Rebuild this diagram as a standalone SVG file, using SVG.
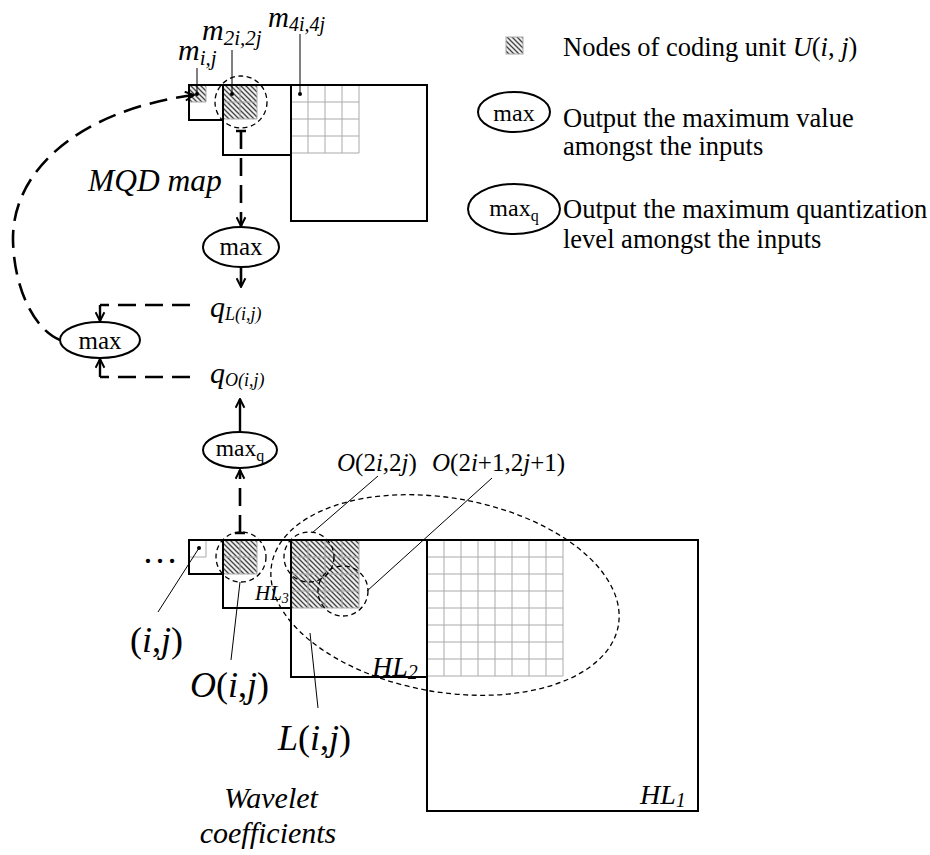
<svg xmlns="http://www.w3.org/2000/svg" width="930" height="855" viewBox="0 0 930 855">
<defs>
<pattern id="hatch" patternUnits="userSpaceOnUse" width="5" height="5">
<rect width="5" height="5" fill="#eeeeee"/>
<path d="M-1,-1 L6,6 M-1,4 L1,6 M4,-1 L6,1" stroke="#444" stroke-width="1.3"/>
</pattern>
<marker id="chev" viewBox="0 0 10 10" refX="9" refY="5" markerWidth="11" markerHeight="11" markerUnits="userSpaceOnUse" orient="auto">
<path d="M1,1 L9,5 L1,9" fill="none" stroke="#000" stroke-width="1.8"/>
</marker>
<style>
text{font-family:"Liberation Serif","Times New Roman",serif;fill:#000}
.it{font-style:italic}
.box{fill:none;stroke:#000;stroke-width:2}
.grid{fill:none;stroke:#aaa;stroke-width:1}
.hat{fill:url(#hatch)}
.dcirc{fill:none;stroke:#000;stroke-width:1.3;stroke-dasharray:5 3.5}
.thick{fill:none;stroke:#000;stroke-width:2.6;stroke-dasharray:18 9}
.solid{fill:none;stroke:#000;stroke-width:2.4}
.lead{fill:none;stroke:#000;stroke-width:1}
.ell{fill:#fff;stroke:#000;stroke-width:2}
.lg{font-size:26.5px}
</style>
</defs>

<!-- MQD map -->
<g id="mqd-map">
<rect class="hat" x="189" y="85" width="17" height="17"/>
<path class="grid" d="M206,85V102 M189,102H206"/>
<rect class="hat" x="223" y="85" width="34" height="34"/>
<path class="grid" d="M240,85V119 M257,85V119 M223,102H257 M223,119H257"/>
<path class="grid" d="M308,85V153 M325,85V153 M342,85V153 M359,85V153 M291,102H359 M291,119H359 M291,136H359 M291,153H359"/>
<rect class="box" x="189" y="85" width="34" height="35"/>
<rect class="box" x="223" y="85" width="68" height="70"/>
<rect class="box" x="291" y="85" width="136" height="136"/>
<circle class="dcirc" cx="241" cy="102" r="26"/>
<circle cx="197" cy="94" r="2"/>
<circle cx="232" cy="94" r="2"/>
<circle cx="300" cy="94" r="2"/>
<path class="lead" d="M197,68V94 M232,50V94 M300,34V94"/>
<text class="it" x="178" y="60" font-size="30">m<tspan font-size="21" dy="5">i,j</tspan></text>
<text class="it" x="202" y="40" font-size="30">m<tspan font-size="21" dy="5">2i,2j</tspan></text>
<text class="it" x="268" y="27" font-size="29">m<tspan font-size="20" dy="4">4i,4j</tspan></text>
<text class="it" x="88" y="191" font-size="31.5">MQD map</text>
</g>

<!-- Legend -->
<g id="legend">
<rect class="hat" x="506" y="37" width="17" height="17" stroke="#aaa" stroke-width="1"/>
<text class="lg" x="563" y="56">Nodes of coding unit <tspan class="it">U</tspan>(<tspan class="it">i</tspan>, <tspan class="it">j</tspan>)</text>
<ellipse class="ell" cx="514" cy="112" rx="36" ry="20"/>
<text x="514" y="121" font-size="24" text-anchor="middle">max</text>
<text class="lg" x="563" y="127">Output the maximum value</text>
<text class="lg" x="563" y="155">amongst the inputs</text>
<ellipse class="ell" cx="514" cy="209" rx="46" ry="25"/>
<text x="514" y="216" font-size="24" text-anchor="middle">max<tspan font-size="16" dy="5">q</tspan></text>
<text class="lg" x="563" y="218">Output the maximum quantization</text>
<text class="lg" x="563" y="248">level amongst the inputs</text>
</g>

<!-- Operators -->
<g id="max-upper">
<ellipse class="ell" cx="241" cy="247" rx="38" ry="20"/>
<text x="241" y="255" font-size="25" text-anchor="middle">max</text>
</g>
<g id="max-lower">
<ellipse class="ell" cx="100" cy="340" rx="40" ry="18"/>
<text x="100" y="349" font-size="25" text-anchor="middle">max</text>
</g>
<g id="maxq">
<ellipse class="ell" cx="240" cy="450" rx="37" ry="18"/>
<text x="240" y="456" font-size="23.5" text-anchor="middle">max<tspan font-size="16" dy="5">q</tspan></text>
</g>
<g id="qL">
<text class="it" x="210" y="317" font-size="30">q<tspan font-size="18" dy="3">L(i,j)</tspan></text>
</g>
<g id="qO">
<text class="it" x="210" y="383" font-size="30">q<tspan font-size="18" dy="3">O(i,j)</tspan></text>
</g>

<!-- Wavelet coefficients -->
<g id="wavelet">
<rect class="hat" x="223" y="540" width="34" height="34"/>
<path class="grid" d="M206,540V557 M189,557H206 M240,540V574 M257,540V574 M223,557H257 M223,574H257"/>
<rect class="hat" x="291" y="540" width="68" height="68"/>
<path class="grid" d="M308,540V608 M325,540V608 M342,540V608 M359,540V608 M291,557H359 M291,574H359 M291,591H359 M291,608H359"/>
<path class="grid" d="M444,540V676 M461,540V676 M478,540V676 M495,540V676 M512,540V676 M529,540V676 M546,540V676 M563,540V676 M427,557H563 M427,574H563 M427,591H563 M427,608H563 M427,625H563 M427,642H563 M427,659H563 M427,676H563"/>
<rect class="box" x="189" y="540" width="34" height="34"/>
<rect class="box" x="223" y="540" width="68" height="68"/>
<rect class="box" x="291" y="540" width="136" height="137"/>
<rect class="box" x="427" y="540" width="271" height="271"/>
<circle class="dcirc" cx="241" cy="557" r="25"/>
<circle class="dcirc" cx="309" cy="557" r="25"/>
<circle class="dcirc" cx="343" cy="591" r="25"/>
<ellipse class="dcirc" cx="445" cy="595" rx="176" ry="97" transform="rotate(10 445 595)"/>
<circle cx="199" cy="548" r="2"/>
<path class="lead" d="M378,476L312,533 M492,478L367,591 M199,548L158,612 M240,582L231,660 M310,633L318,708"/>
<text x="142" y="563" font-size="36">…</text>
<text x="337" y="471" font-size="25"><tspan class="it">O</tspan>(2<tspan class="it">i</tspan>,2<tspan class="it">j</tspan>)</text>
<text x="432" y="471" font-size="25"><tspan class="it">O</tspan>(2<tspan class="it">i</tspan>+1,2<tspan class="it">j</tspan>+1)</text>
<text class="it" x="255" y="600" font-size="21">HL<tspan font-size="14" dy="3">3</tspan></text>
<text class="it" x="372" y="676" font-size="28">HL<tspan font-size="20" dy="3">2</tspan></text>
<text class="it" x="640" y="804" font-size="28">HL<tspan font-size="20" dy="3">1</tspan></text>
<text x="130" y="652" font-size="36">(<tspan class="it">i</tspan>,<tspan class="it">j</tspan>)</text>
<text x="190" y="697" font-size="36"><tspan class="it">O</tspan>(<tspan class="it">i</tspan>,<tspan class="it">j</tspan>)</text>
<text x="278" y="750" font-size="36"><tspan class="it">L</tspan>(<tspan class="it">i</tspan>,<tspan class="it">j</tspan>)</text>
<text class="it" x="271" y="808" font-size="30" text-anchor="middle">Wavelet</text>
<text class="it" x="268" y="843" font-size="30" text-anchor="middle">coefficients</text>
</g>

<!-- Connectors -->
<g id="connectors">
<path class="thick" d="M60,340 C35,330 14,290 13,240 C12,170 80,110 194,95" marker-end="url(#chev)"/>
<path class="solid" d="M236,131H246 M235,533H245" stroke-width="1.8"/>
<path class="thick" d="M241,131V226" marker-end="url(#chev)"/>
<path class="thick" d="M241,267V287" stroke-dasharray="9 5" marker-end="url(#chev)"/>
<path class="thick" d="M190,305H100"/>
<path class="solid" d="M100,305V321" marker-end="url(#chev)"/>
<path class="thick" d="M190,377H100"/>
<path class="solid" d="M100,377V359" marker-end="url(#chev)"/>
<path class="solid" d="M240,432V399" marker-end="url(#chev)"/>
<path class="thick" d="M240,533V470" marker-end="url(#chev)"/>
</g>
</svg>
